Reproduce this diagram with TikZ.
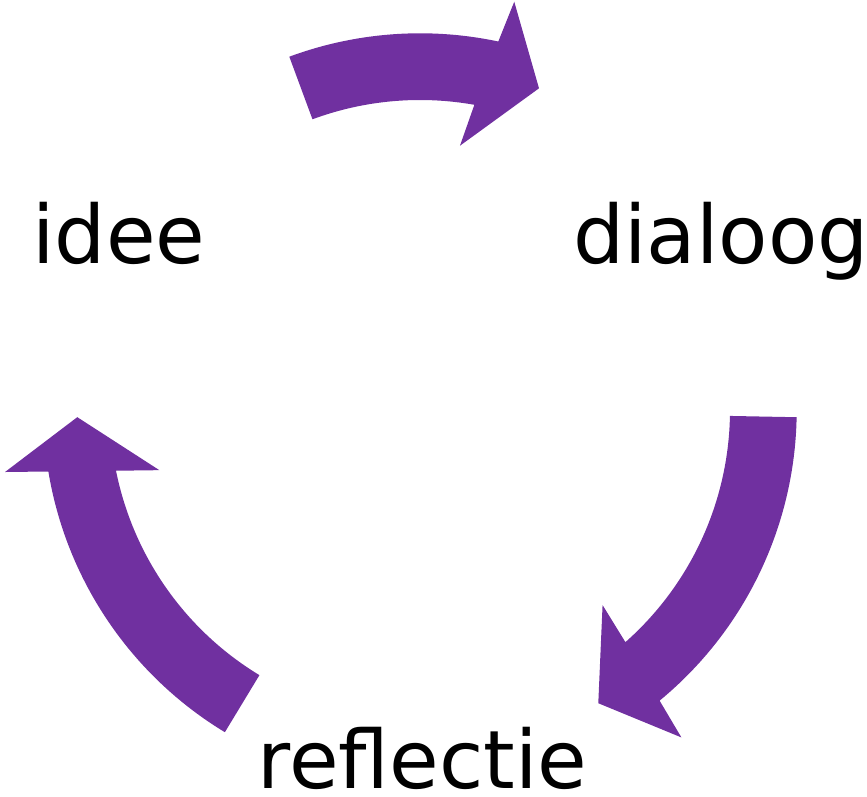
\documentclass[tikz,border=0pt]{standalone}
\usepackage{fontspec}
\setmainfont{DejaVu Sans}
\definecolor{cyclepurple}{HTML}{7030A0}
\begin{document}
\begin{tikzpicture}[x=0.75pt,y=0.75pt,
  arrowfill/.style={fill=cyclepurple,draw=none},
  label/.style={inner sep=0pt,anchor=base,font=\fontsize{60.5}{70}\selectfont,text=black}]
\useasboundingbox (0,0) rectangle (867,796);
\coordinate (C) at (420,386);
% top arrow: idee -> dialoog
\fill[arrowfill] ([shift={(C)}]110.3:376.7) arc[start angle=110.3,end angle=78.0,radius=376.7]
  -- ([shift={(C)}]77.0:419) -- ([shift={(C)}]69.7:343) -- ([shift={(C)}]81.4:267.3)
  -- ([shift={(C)}]79.9:310) arc[start angle=79.9,end angle=110.3,radius=310] -- cycle;
% right arrow: dialoog -> reflectie
\fill[arrowfill] ([shift={(C)}]-1.1:376.7) arc[start angle=-1.1,end angle=-50.5,radius=376.7]
  -- ([shift={(C)}]-51.4:419) -- ([shift={(C)}]-58.7:343.2) -- ([shift={(C)}]-46.9:267.2)
  -- ([shift={(C)}]-48.5:310) arc[start angle=-48.5,end angle=-1.1,radius=310] -- cycle;
% left arrow: reflectie -> idee
\fill[arrowfill] ([shift={(C)}]238.8:376.7) arc[start angle=238.8,end angle=189.4,radius=376.7]
  -- ([shift={(C)}]188.5:419.6) -- ([shift={(C)}]181.2:342.8) -- ([shift={(C)}]193.0:267.5)
  -- ([shift={(C)}]191.3:310) arc[start angle=191.3,end angle=238.8,radius=310] -- cycle;
\node[label] (idee) at (119,532) {idee};
\node[label] (dialoog) at (721,532) {dialoog};
\node[label,text depth=0pt] (reflectie) at (422.5,7.7) {reflectie};
\end{tikzpicture}
\end{document}
